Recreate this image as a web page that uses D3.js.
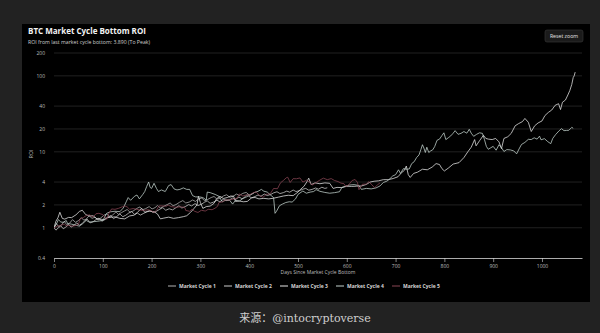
<!DOCTYPE html>
<html>
<head>
<meta charset="utf-8">
<script src="https://cdn.jsdelivr.net/npm/d3@7"></script>
<style>
  html, body { margin: 0; padding: 0; background: #222222; }
  svg { display: block; }
</style>
</head>
<body>
<svg id="chart"></svg>
<script>
// [day since bottom, ROI]
const cycle1 = [
  [0, 1.00], [5, 1.14], [9, 1.04], [15, 1.08], [21, 1.22], [26, 1.10], [32, 1.15], [38, 1.28], [44, 1.18],
  [50, 1.24], [56, 1.36], [61, 1.26], [66, 1.30], [72, 1.44], [78, 1.33], [84, 1.38], [90, 1.26], [96, 1.35],
  [102, 1.46], [108, 1.52], [114, 1.40], [120, 1.47], [127, 1.62], [132, 1.50], [138, 1.58], [144, 1.66],
  [150, 1.74], [156, 1.60], [162, 1.66], [170, 1.80], [176, 1.88], [181, 1.72], [188, 1.79], [195, 1.90],
  [201, 1.77], [207, 1.84], [212, 1.96], [218, 1.82], [225, 1.92], [232, 2.02], [238, 2.12], [244, 1.95],
  [250, 2.02], [257, 2.16], [264, 2.28], [270, 2.12], [277, 2.18], [284, 2.32], [290, 2.22], [296, 2.40],
  [303, 2.46], [309, 2.26], [315, 2.36], [322, 2.50], [328, 2.58], [334, 2.38], [341, 2.46], [348, 2.64],
  [354, 2.72], [360, 2.52], [367, 2.60], [374, 2.78], [380, 2.66], [387, 2.84], [394, 2.92], [400, 2.70],
  [405, 2.78], [410, 2.88]
]

const cycle2 = [
  [0, 1.00], [4, 0.93], [9, 1.00], [14, 1.06], [19, 0.97], [24, 1.02], [30, 1.10], [35, 1.02], [41, 1.08],
  [47, 1.16], [52, 1.08], [58, 1.14], [63, 1.24], [68, 1.30], [74, 1.16], [80, 1.20], [86, 1.28], [92, 1.34],
  [98, 1.22], [104, 1.28], [110, 1.38], [116, 1.44], [122, 1.32], [128, 1.40], [135, 1.52], [141, 1.40],
  [147, 1.46], [153, 1.56], [159, 1.64], [165, 1.50], [171, 1.56], [177, 1.47], [184, 1.55], [191, 1.64],
  [197, 1.70], [203, 1.58], [210, 1.65], [217, 1.76], [223, 1.84], [229, 1.70], [236, 1.78], [243, 1.72],
  [250, 1.84], [256, 1.95], [262, 1.82], [269, 1.90], [276, 2.02], [282, 1.94], [289, 2.08], [295, 1.96],
  [302, 2.04], [308, 2.16], [314, 2.26], [320, 2.10], [327, 2.18], [334, 2.30], [340, 2.20], [347, 2.38],
  [353, 2.28], [360, 2.34], [366, 2.46], [372, 2.36], [379, 2.54], [385, 2.42], [392, 2.50], [398, 2.62],
  [405, 2.48], [412, 2.58], [418, 2.70], [424, 2.60], [431, 2.78], [437, 2.66], [444, 2.74], [450, 2.88],
  [457, 2.98], [463, 2.82], [470, 2.90], [477, 3.04], [483, 2.94], [490, 3.14], [496, 3.00], [503, 3.08],
  [510, 3.22], [516, 3.30], [522, 3.12], [529, 3.20], [536, 3.34], [542, 3.22], [549, 3.42], [555, 3.30],
  [560, 3.36]
]

const cycle3 = [
  [0, 1.00], [4, 1.22], [8, 1.35], [12, 1.60], [17, 1.33], [22, 1.30], [30, 1.37], [36, 1.36],
  [45, 1.48], [52, 1.64], [58, 1.70], [65, 1.49], [72, 1.43], [80, 1.44], [88, 1.31], [95, 1.30],
  [102, 1.28], [110, 1.36], [118, 1.38], [125, 1.39], [135, 1.33], [145, 1.31], [155, 1.43], [165, 1.47],
  [172, 1.63], [180, 1.80], [186, 1.60], [195, 1.65], [205, 1.63], [212, 1.52], [218, 1.31], [225, 1.34],
  [235, 1.38], [245, 1.33], [255, 1.36], [265, 1.40], [272, 1.44], [280, 1.60], [287, 1.80], [293, 2.00],
  [296, 2.60], [300, 2.15], [305, 1.80], [312, 1.90], [320, 1.93], [328, 2.10], [333, 2.40], [340, 2.60],
  [347, 2.43], [355, 2.50], [362, 2.62], [368, 2.60], [372, 2.22], [380, 2.25], [388, 2.20], [396, 2.22],
  [405, 2.48], [412, 2.50], [420, 2.40], [430, 2.44], [440, 2.40], [450, 2.45], [460, 2.53], [470, 2.62],
  [480, 2.68], [490, 2.65], [500, 2.95], [505, 3.20], [512, 3.50], [518, 4.00], [522, 4.50], [527, 3.70],
  [535, 3.90], [545, 3.80], [555, 3.90], [565, 3.85], [572, 3.30], [580, 3.40], [590, 3.38], [600, 3.52],
  [610, 3.50], [620, 3.53], [630, 3.55], [640, 3.72], [648, 4.00], [656, 4.10], [665, 4.15], [675, 4.30],
  [685, 4.30], [695, 4.45], [705, 4.70], [712, 5.30], [718, 5.70], [722, 6.50], [726, 5.00], [730, 4.60],
  [737, 5.20], [745, 5.40], [755, 5.90], [765, 5.80], [775, 6.30], [783, 7.00], [790, 6.80], [795, 6.00],
  [800, 5.60], [808, 6.10], [818, 6.90], [830, 7.20], [840, 8.40], [848, 10.0], [855, 11.5], [862, 14.5],
  [865, 12.0], [872, 14.0], [880, 16.5], [885, 15.0], [890, 14.7], [898, 14.5], [905, 15.0], [912, 13.5],
  [917, 11.0], [922, 15.0], [930, 15.8], [937, 17.5], [945, 22.0], [952, 23.5], [960, 25.0], [965, 27.5],
  [972, 24.5], [978, 18.5], [985, 22.0], [992, 24.0], [1000, 25.5], [1006, 30.0], [1013, 33.0], [1020, 35.5],
  [1027, 41.0], [1034, 43.0], [1038, 36.0], [1042, 45.0], [1048, 48.0], [1053, 56.0], [1057, 64.0],
  [1061, 77.0], [1064, 95.0], [1066, 100], [1068, 112]
]

const cycle4 = [
  [0, 1.00], [5, 1.12], [9, 1.28], [14, 1.19], [20, 1.18], [25, 1.25], [28, 1.13], [35, 1.12],
  [45, 1.08], [52, 1.05], [58, 1.12], [66, 1.25], [72, 1.19], [80, 1.20], [90, 1.22], [100, 1.25],
  [108, 1.55], [115, 1.62], [125, 1.65], [135, 1.63], [142, 1.82], [148, 2.20], [152, 2.50], [157, 2.30],
  [165, 2.60], [170, 2.70], [175, 2.40], [182, 2.75], [186, 3.00], [190, 3.50], [194, 4.00], [197, 3.40],
  [200, 3.30], [205, 3.85], [210, 3.30], [214, 3.00], [220, 3.15], [228, 3.00], [235, 3.60], [240, 3.70],
  [246, 3.25], [252, 3.15], [258, 3.20], [265, 3.35], [272, 3.20], [278, 3.20], [284, 2.65], [290, 2.55],
  [298, 2.55], [305, 2.50], [312, 2.32], [314, 2.95], [320, 2.90], [330, 2.75], [338, 2.60], [345, 2.20],
  [352, 2.32], [360, 2.30], [366, 2.05], [372, 2.30], [380, 2.25], [388, 2.45], [395, 2.70], [402, 2.68],
  [410, 2.90], [418, 3.02], [425, 3.20], [430, 3.03], [437, 2.95], [443, 2.72], [450, 2.50], [453, 1.55],
  [456, 1.65], [462, 1.95], [468, 2.05], [475, 2.15], [482, 2.20], [488, 2.18], [495, 2.40], [500, 2.75],
  [510, 3.05], [517, 2.85], [525, 2.95], [532, 3.00], [537, 3.18], [545, 3.02], [555, 2.92], [565, 2.85],
  [575, 2.90], [585, 2.98], [590, 3.40], [596, 3.50], [605, 3.65], [615, 3.70], [625, 3.60], [630, 3.20],
  [640, 3.30], [650, 3.25], [660, 3.35], [668, 3.55], [675, 3.95], [682, 4.10], [688, 4.40], [694, 4.80],
  [700, 5.00], [706, 5.80], [710, 5.20], [716, 6.00], [723, 5.90], [728, 5.95], [733, 7.00], [738, 7.40],
  [743, 8.40], [748, 9.10], [752, 10.8], [755, 12.4], [758, 11.2], [761, 9.80], [764, 11.5], [768, 9.80],
  [772, 10.3], [776, 10.6], [780, 11.7], [785, 14.2], [790, 14.7], [795, 16.4], [799, 17.8], [803, 14.5],
  [808, 15.3], [813, 16.2], [818, 17.6], [822, 19.0], [828, 17.0], [834, 17.5], [840, 18.5], [846, 17.6],
  [851, 19.8], [855, 17.6], [860, 16.0], [866, 17.0], [872, 17.8], [878, 17.5], [882, 14.6], [886, 11.8],
  [890, 10.8], [895, 11.3], [900, 11.8], [906, 10.5], [912, 12.4], [918, 11.1], [922, 10.1], [928, 10.7],
  [935, 10.6], [942, 10.3], [948, 9.40], [953, 10.9], [958, 12.5], [965, 13.3], [972, 14.6], [978, 14.5],
  [984, 15.3], [990, 14.7], [995, 16.1], [998, 14.4], [1005, 14.9], [1012, 13.6], [1018, 12.8], [1022, 15.0],
  [1028, 16.9], [1035, 18.9], [1040, 20.2], [1045, 19.0], [1050, 19.1], [1055, 19.2], [1061, 21.0], [1064, 20.4]
]

const cycle5 = [
  [0, 1.00], [7, 1.05], [14, 1.08], [21, 1.12], [25, 1.06], [30, 1.07], [38, 1.05], [45, 1.07],
  [50, 1.11], [54, 1.32], [60, 1.36], [66, 1.45], [73, 1.48], [80, 1.38], [86, 1.53], [92, 1.55],
  [100, 1.49], [108, 1.29], [112, 1.52], [118, 1.77], [125, 1.75], [132, 1.80], [140, 1.89], [145, 1.94],
  [150, 1.88], [155, 1.75], [162, 1.79], [170, 1.75], [178, 1.70], [186, 1.70], [193, 1.73], [200, 1.67],
  [205, 1.59], [210, 1.70], [215, 1.94], [222, 1.94], [230, 1.92], [234, 1.99], [240, 1.90], [250, 1.86],
  [260, 1.89], [268, 1.85], [270, 1.69], [278, 1.65], [283, 1.76], [288, 1.65], [295, 1.59], [302, 1.70],
  [310, 1.66], [316, 1.75], [324, 1.73], [330, 1.81], [335, 1.91], [338, 2.15], [345, 2.19], [352, 2.33],
  [360, 2.32], [368, 2.39], [375, 2.45], [380, 2.79], [387, 2.62], [393, 2.70], [400, 2.70], [407, 2.86],
  [414, 2.98], [420, 2.70], [428, 2.51], [435, 2.75], [443, 2.80], [450, 3.29], [458, 3.27], [464, 3.90],
  [470, 4.19], [476, 4.55], [479, 4.63], [484, 3.95], [490, 4.43], [497, 4.42], [504, 4.53], [510, 4.00],
  [518, 4.24], [526, 3.85], [529, 3.65], [536, 3.89], [545, 4.25], [552, 4.50], [560, 4.30], [568, 4.44],
  [575, 4.19], [582, 4.06], [588, 3.87], [594, 3.81], [598, 3.49], [604, 3.68], [611, 4.19], [617, 4.32],
  [622, 3.94], [625, 3.17], [632, 3.75], [640, 3.75], [645, 4.06], [650, 3.75], [657, 3.37], [663, 3.68],
  [668, 3.89]
]

const seriesNames = ['Market Cycle 1', 'Market Cycle 2', 'Market Cycle 3', 'Market Cycle 4', 'Market Cycle 5']
const seriesData = [cycle1, cycle2, cycle3, cycle4, cycle5]
const seriesColors = ['#b3b3b3', '#cccccc', '#e6e6e6', '#c4d3cf', '#8a4654']

const yTicks = [0.4, 1, 2, 4, 10, 20, 40, 100, 200]
const xTicks = [0, 100, 200, 300, 400, 500, 600, 700, 800, 900, 1000]

const W = 600
const H = 333
const plot = { left: 54, right: 582, top: 53, bottom: 258 }
const FONT = '"Open Sans", "Noto Sans", sans-serif'

const svg = d3.select('#chart')
  .attr('width', W)
  .attr('height', H)

// chart panel
svg.append('rect')
  .attr('x', 22).attr('y', 24)
  .attr('width', 568).attr('height', 278)
  .attr('fill', '#000')

svg.append('text')
  .attr('x', 28).attr('y', 34)
  .attr('fill', '#f2f2f2')
  .attr('font-family', FONT)
  .attr('font-size', 8)
  .attr('font-weight', 'bold')
  .text('BTC Market Cycle Bottom ROI')

svg.append('text')
  .attr('x', 28).attr('y', 43.5)
  .attr('fill', '#cfcfcf')
  .attr('font-family', FONT)
  .attr('font-size', 5.2)
  .text('ROI from last market cycle bottom: 3.890 (To Peak)')

// reset zoom button
const btn = svg.append('g').attr('transform', 'translate(545, 30)')
btn.append('rect')
  .attr('width', 38).attr('height', 12).attr('rx', 2)
  .attr('fill', '#1b1b1b').attr('stroke', '#3a3a3a').attr('stroke-width', 0.6)
btn.append('text')
  .attr('x', 19).attr('y', 8)
  .attr('text-anchor', 'middle')
  .attr('fill', '#e6e6e6')
  .attr('font-family', FONT)
  .attr('font-size', 5.2)
  .text('Reset zoom')

const x = d3.scaleLinear()
  .domain([0, 1082])
  .range([plot.left, plot.right])

const y = d3.scaleLog()
  .domain([0.4, 200])
  .range([plot.bottom, plot.top])

// grid lines
svg.append('g')
  .selectAll('line')
  .data(yTicks.filter(d => d > 0.4))
  .enter()
    .append('line')
    .attr('x1', plot.left).attr('x2', plot.right)
    .attr('y1', d => y(d)).attr('y2', d => y(d))
    .attr('stroke', '#292929')
    .attr('stroke-width', 0.8)

// y axis labels
const yAxis = svg.append('g')
  .attr('transform', `translate(${plot.left - 6}, 0)`)
  .call(d3.axisLeft(y).tickValues(yTicks).tickFormat(d => String(d)).tickSize(0))
yAxis.select('.domain').remove()
yAxis.selectAll('text')
  .attr('fill', '#bdbdbd')
  .attr('font-family', FONT)
  .attr('font-size', 5)
  .attr('dx', 0)

svg.append('text')
  .attr('transform', `translate(33, 154) rotate(-90)`)
  .attr('text-anchor', 'middle')
  .attr('fill', '#bdbdbd')
  .attr('font-family', FONT)
  .attr('font-size', 5)
  .text('ROI')

// series lines
svg.append('clipPath')
  .attr('id', 'plot-clip')
  .append('rect')
    .attr('x', plot.left).attr('y', plot.top - 4)
    .attr('width', plot.right - plot.left).attr('height', plot.bottom - plot.top + 4)

const line = d3.line()
  .x(d => x(d[0]))
  .y(d => y(d[1]))

svg.append('g')
  .attr('clip-path', 'url(#plot-clip)')
  .selectAll('path')
  .data(seriesData)
  .enter()
    .append('path')
    .attr('d', d => line(d))
    .attr('fill', 'none')
    .attr('stroke', (d, i) => seriesColors[i])
    .attr('stroke-width', 0.85)
    .attr('stroke-linejoin', 'round')
    .attr('opacity', 0.9)

// x axis
const xAxis = svg.append('g')
  .attr('transform', `translate(0, ${plot.bottom})`)
  .call(d3.axisBottom(x).tickValues(xTicks).tickFormat(d3.format('d')).tickSize(4).tickSizeOuter(0))
xAxis.select('.domain').attr('stroke', '#d8d8d8').attr('stroke-width', 0.8)
xAxis.selectAll('.tick line').attr('stroke', '#d8d8d8').attr('stroke-width', 0.6)
xAxis.selectAll('text')
  .attr('fill', '#bdbdbd')
  .attr('font-family', FONT)
  .attr('font-size', 5)
  .attr('dy', '0.5em')

svg.append('text')
  .attr('x', (plot.left + plot.right) / 2).attr('y', 274)
  .attr('text-anchor', 'middle')
  .attr('fill', '#bdbdbd')
  .attr('font-family', FONT)
  .attr('font-size', 5)
  .text('Days Since Market Cycle Bottom')

// legend
const legend = svg.append('g')
  .selectAll('g')
  .data(seriesNames)
  .enter()
    .append('g')
    .attr('transform', (d, i) => `translate(${168 + i * 56}, 286)`)
legend.append('line')
  .attr('x1', 0).attr('x2', 8)
  .attr('stroke', (d, i) => seriesColors[i])
  .attr('stroke-width', 1)
legend.append('text')
  .attr('x', 11).attr('y', 1.8)
  .attr('fill', '#d6d6d6')
  .attr('font-family', FONT)
  .attr('font-size', 5)
  .attr('font-weight', 'bold')
  .text(d => d)

// watermark below the chart
svg.append('text')
  .attr('x', 305).attr('y', 322)
  .attr('text-anchor', 'middle')
  .attr('fill', '#cfcfcf')
  .attr('font-family', '"DejaVu Serif", "Noto Sans CJK SC", serif')
  .attr('font-size', 11)
  .text('来源：@intocryptoverse')
</script>
</body>
</html>
